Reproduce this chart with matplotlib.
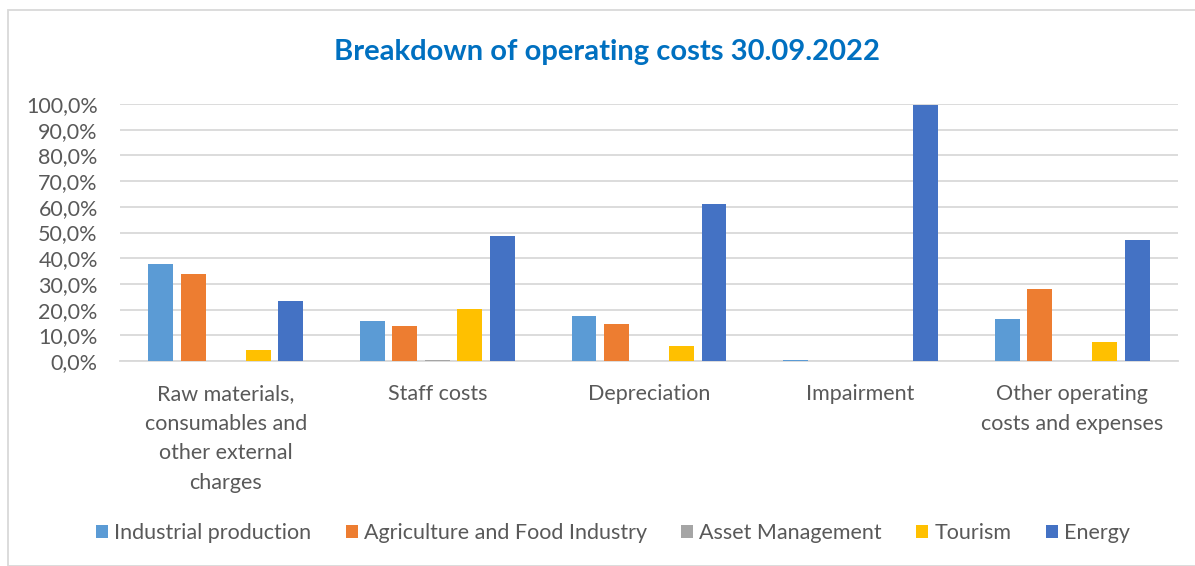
import matplotlib
matplotlib.use("Agg")
import matplotlib.pyplot as plt
import numpy as np
from matplotlib.patches import Rectangle

categories = ["Raw materials,\nconsumables and\nother external\ncharges", "Staff costs", "Depreciation",
              "Impairment", "Other operating\ncosts and expenses"]
series_names = ["Industrial production", "Agriculture and Food Industry", "Asset Management", "Tourism", "Energy"]
industrial = [37.7, 15.6, 17.5, 0.3, 16.3]
agriculture = [33.9, 13.6, 14.4, 0.0, 27.9]
asset_mgmt = [0.0, 0.5, 0.0, 0.0, 0.0]
tourism = [4.3, 20.1, 6.0, 0.0, 7.3]
energy = [23.3, 48.6, 61.1, 99.6, 47.1]
yticks = [0, 10, 20, 30, 40, 50, 60, 70, 80, 90, 100]
ytick_labels = ["0,0%", "10,0%", "20,0%", "30,0%", "40,0%", "50,0%", "60,0%", "70,0%", "80,0%", "90,0%", "100,0%"]

colors = ["#5B9BD5", "#ED7D31", "#A5A5A5", "#FFC000", "#4472C4"]
plt.rcParams['font.family'] = ['Lato', 'DejaVu Sans']
txt = "#595959"
fs = 15.5

fig = plt.figure(figsize=(11.95, 5.66), dpi=100)
ax = fig.add_axes([120/1195, 1-361/566, (1178-120)/1195, (361-104)/566])

x = np.arange(len(categories))
step = 0.1536
width = 0.118
data = [industrial, agriculture, asset_mgmt, tourism, energy]
handles = []
for i, (vals, c, n) in enumerate(zip(data, colors, series_names)):
    h = ax.bar(x + (i - 2) * step, vals, width=width, color=c, label=n, zorder=3)
    handles.append(h)

ax.set_xlim(-0.5, len(categories) - 0.5)
ax.set_ylim(0, 100)
ax.set_yticks(yticks)
ax.set_yticklabels(ytick_labels, color=txt, fontsize=fs)
ax.yaxis.grid(True, color="#D9D9D9", linewidth=1.3, zorder=0)
ax.tick_params(axis='y', length=0, pad=16)
ax.set_xticks(x)
ax.set_xticklabels(categories, color=txt, fontsize=fs, linespacing=1.6)
ax.tick_params(axis='x', length=0, pad=16.5)
for s in ["top", "right", "left"]:
    ax.spines[s].set_visible(False)
ax.spines["bottom"].set_color("#D9D9D9")
ax.spines["bottom"].set_linewidth(1.3)

fig.text(607/1195, 1-52/566, "Breakdown of operating costs 30.09.2022", ha="center", va="center",
         fontsize=21, fontweight="bold", color="#0070C0")

leg = fig.legend(handles=handles, labels=series_names, loc="center", bbox_to_anchor=(613/1195, 1-533/566),
                 ncol=5, frameon=False, fontsize=fs, handlelength=0.56, handleheight=0.56,
                 handletextpad=0.28, columnspacing=1.6)
for t in leg.get_texts():
    t.set_color(txt)

fig.patches.append(Rectangle((8/1195, 0), 1.2, 1 - 10/566, transform=fig.transFigure,
                             fill=False, edgecolor="#D9D9D9", linewidth=1.3))

fig.savefig("out.png", dpi=100)
